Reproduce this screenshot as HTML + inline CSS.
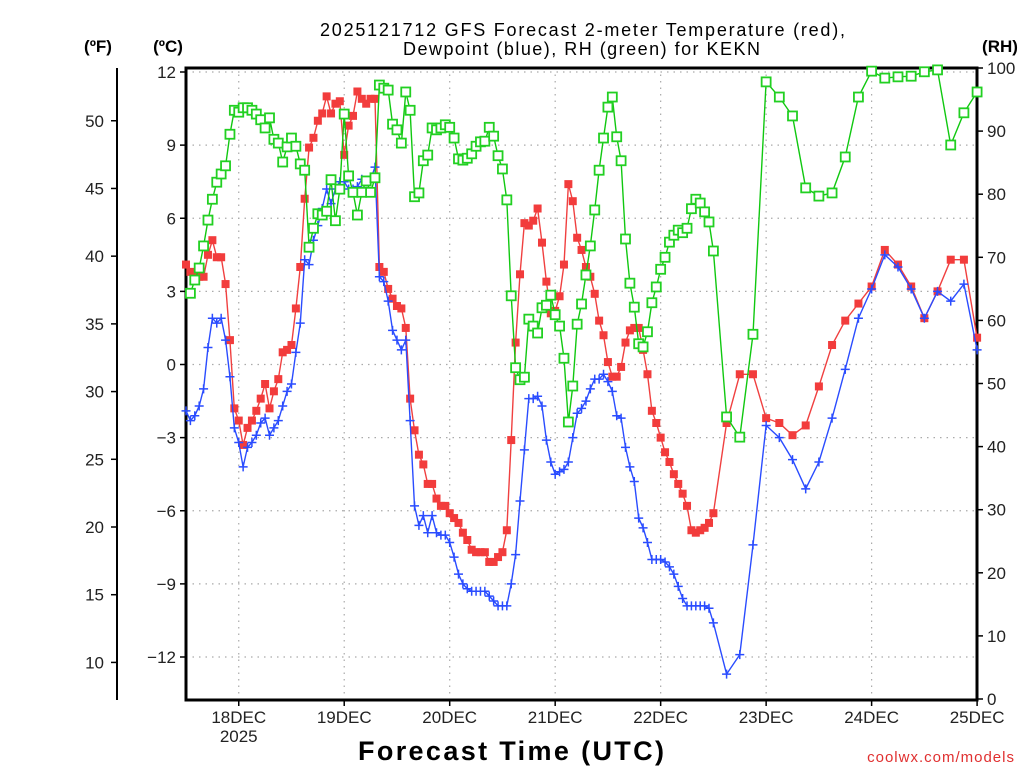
<!DOCTYPE html>
<html><head><meta charset="utf-8"><title>GFS Forecast KEKN</title>
<style>
html,body{margin:0;padding:0;background:#fff;}
svg{display:block;font-family:"Liberation Sans",sans-serif;}
</style></head>
<body>
<svg id="chart" width="1024" height="768" viewBox="0 0 1024 768" xmlns="http://www.w3.org/2000/svg">
  <text x="320" y="36" font-size="18" textLength="525" lengthAdjust="spacing" fill="#000">2025121712 GFS Forecast 2-meter Temperature (red),</text>
  <text x="403" y="55" font-size="18" textLength="357" lengthAdjust="spacing" fill="#000">Dewpoint (blue), RH (green) for KEKN</text>
  <text x="98" y="52" font-size="17" font-weight="bold" text-anchor="middle">(ºF)</text>
  <text x="168" y="52" font-size="17" font-weight="bold" text-anchor="middle">(ºC)</text>
  <text x="1000" y="52" font-size="17" font-weight="bold" text-anchor="middle">(RH)</text>
  <text x="358" y="760" font-size="27" font-weight="bold" textLength="306" lengthAdjust="spacing">Forecast Time (UTC)</text>
  <text x="1015" y="762" font-size="15" fill="#e03030" text-anchor="end" letter-spacing="1">coolwx.com/models</text>
  <g id="grid"></g>
  <g id="axes"></g>
  <g id="series"></g>
</svg>
<script>
// ---- data ----
const dayLabels = ["18DEC","19DEC","20DEC","21DEC","22DEC","23DEC","24DEC","25DEC"];
const dayHours = [12,36,60,84,108,132,156,180];
const celsiusTicks = [12,9,6,3,0,-3,-6,-9,-12];
const fahrenheitTicks = [50,45,40,35,30,25,20,15,10];
const rhTicks = [100,90,80,70,60,50,40,30,20,10,0];
const hoursTail = [123,126,129,132,135,138,141,144,147,150,153,156,159,162,165,168,171,174,177,180];
const tempC = [4.1,3.8,3.6,3.6,3.6,4.5,5.1,4.4,4.4,3.3,1.0,-1.8,-2.3,-3.3,-2.6,-2.3,-1.9,-1.4,-0.8,-1.8,
-1.1,-0.6,0.5,0.6,0.8,2.3,4.0,6.8,8.9,9.3,10.0,10.3,11.0,10.3,10.7,10.8,8.6,9.8,10.2,11.2,
10.9,10.7,10.9,10.9,4.0,3.8,3.1,2.7,2.4,2.3,1.5,-1.4,-2.7,-3.7,-4.1,-4.9,-4.9,-5.5,-5.8,-5.8,
-6.1,-6.3,-6.5,-6.9,-7.2,-7.6,-7.7,-7.7,-7.7,-8.1,-8.1,-7.9,-7.7,-6.8,-3.1,0.9,3.7,5.8,5.7,5.9,
6.4,5.0,3.4,2.1,2.2,2.8,4.1,7.4,6.7,5.2,4.7,4.0,3.6,2.9,1.8,1.2,0.1,-0.5,-0.5,-0.1,
0.9,1.4,1.5,1.5,0.6,-0.4,-1.9,-2.4,-3.0,-3.6,-4.0,-4.5,-4.9,-5.3,-5.8,-6.8,-6.9,-6.8,-6.7,-6.5,-6.1,
-2.4,-0.4,-0.4,-2.2,-2.4,-2.9,-2.5,-0.9,0.8,1.8,2.5,3.2,4.7,4.1,3.2,1.9,3.0,4.3,4.3,1.1];
const dewC = [-1.9,-2.3,-2.1,-1.7,-1.0,0.7,1.9,1.7,1.9,1.0,-0.5,-2.6,-3.2,-4.2,-3.4,-3.2,-2.9,-2.4,-2.2,-2.9,
-2.6,-2.3,-1.7,-1.1,-0.8,0.5,1.7,4.3,4.1,5.1,5.7,6.4,7.2,6.6,7.2,7.5,7.5,7.2,7.2,7.3,
7.6,7.5,7.6,8.1,3.6,3.4,2.6,1.4,1.0,0.6,1.0,-2.3,-5.8,-6.6,-6.2,-6.9,-6.2,-6.9,-7.0,-7.0,
-7.3,-7.9,-8.6,-9.0,-9.2,-9.3,-9.3,-9.3,-9.3,-9.5,-9.7,-9.9,-9.9,-9.9,-9.0,-7.8,-5.6,-3.5,-1.4,-1.4,
-1.3,-1.7,-3.1,-4.0,-4.5,-4.4,-4.3,-4.0,-3.0,-2.0,-1.8,-1.5,-1.0,-0.6,-0.6,-0.4,-0.7,-1.1,-2.1,-2.2,
-3.4,-4.2,-4.8,-6.3,-6.7,-7.3,-8.0,-8.0,-8.0,-8.1,-8.3,-8.6,-9.1,-9.6,-9.9,-9.9,-9.9,-9.9,-9.9,-10.0,-10.6,
-12.7,-11.9,-7.4,-2.5,-3.0,-3.9,-5.1,-4.0,-2.2,-0.2,1.9,3.1,4.5,4.0,3.1,1.9,3.0,2.6,3.3,0.6];
const rhPct = [64.3,66.4,68.3,71.8,75.9,79.2,81.9,83.2,84.5,89.5,
93.3,93.0,93.7,93.7,93.3,92.7,91.8,90.5,92.1,88.7,88.1,85.1,87.5,88.9,87.6,84.8,83.8,71.6,74.6,76.9,
76.7,77.3,82.3,75.8,80.8,92.7,82.9,80.3,76.7,80.3,82.1,80.3,82.6,97.3,96.8,96.5,91.1,90.2,88.1,96.2,
93.3,79.6,80.2,85.3,86.2,90.5,90.2,90.5,91.0,90.6,88.9,85.6,85.4,85.7,86.4,87.6,88.3,88.4,90.6,89.2,
86.1,84.0,79.1,63.9,52.5,50.6,51.0,60.2,59.1,58.0,62.0,62.4,64.0,60.9,59.1,54.0,43.9,49.6,59.4,62.6,
67.2,71.8,77.5,83.8,88.9,93.8,95.4,89.1,85.3,72.9,65.9,62.1,56.3,55.8,58.2,62.8,65.3,68.1,70.0,72.4,
73.5,74.3,73.9,74.6,77.7,79.2,78.6,77.2,75.6,71.0,
44.7,41.5,57.8,97.8,95.4,92.4,81.0,79.7,80.2,85.9,95.4,99.5,98.4,98.6,98.7,99.4,99.7,87.8,92.9,96.2];

// hours: hourly 0..120 then 3-hourly tail
const hoursTR = [];
for (let h = 0; h <= 120; h++) hoursTR.push(h);
const hoursT = hoursTR.concat(hoursTail);
const hoursRH = hoursT.slice(1);

// ---- scales ----
const X0 = 186, X1 = 977, Y0 = 68, Y1 = 700;
const xH = h => 186 + h * 4.395;
const yC = c => 364.5 - c * 24.375;
const yF = f => yC((f - 32) * 5 / 9);
const yRH = r => 699 - r * 6.31;

const NS = "http://www.w3.org/2000/svg";
function mk(tag, attrs, parent) {
  const e = document.createElementNS(NS, tag);
  for (const k in attrs) e.setAttribute(k, attrs[k]);
  parent.appendChild(e);
  return e;
}
const grid = document.getElementById("grid");
const axes = document.getElementById("axes");
const series = document.getElementById("series");

celsiusTicks.forEach(c => {
  const l = mk("line", {x1: X0, x2: X1, y1: yC(c), y2: yC(c), stroke: "#aaa", "stroke-width": 1.2, "stroke-dasharray": "1.5 5"}, grid);
  
  
});
dayHours.forEach(h => {
  const l = mk("line", {x1: xH(h), x2: xH(h), y1: Y0, y2: Y1, stroke: "#aaa", "stroke-width": 1.2, "stroke-dasharray": "1.5 5"}, grid);
  
  
});

const frame = mk("rect", {x: X0, y: Y0, width: X1 - X0, height: Y1 - Y0, fill: "none", stroke: "#000", "stroke-width": 3}, axes);



celsiusTicks.forEach(c => {
  const t = mk("line", {x1: X0 - 6, x2: X0, y1: yC(c), y2: yC(c), stroke: "#000", "stroke-width": 1.5}, axes);
  
  
  const lab = mk("text", {x: X0 - 10, y: yC(c) + 6, "font-size": 17, "text-anchor": "end", fill: "#222"}, axes);
  lab.textContent = c < 0 ? "\u2212" + Math.abs(c) : String(c);
  
  
});
const fl = mk("line", {x1: 117, x2: 117, y1: Y0, y2: Y1, stroke: "#000", "stroke-width": 2}, axes);


fahrenheitTicks.forEach(f => {
  const t = mk("line", {x1: 111, x2: 117, y1: yF(f), y2: yF(f), stroke: "#000", "stroke-width": 1.5}, axes);
  
  
  const lab = mk("text", {x: 104, y: yF(f) + 6, "font-size": 17, "text-anchor": "end", fill: "#222"}, axes);
  lab.textContent = String(f);
  
  
});
rhTicks.forEach(r => {
  const t = mk("line", {x1: X1, x2: X1 + 6, y1: yRH(r), y2: yRH(r), stroke: "#000", "stroke-width": 1.5}, axes);
  
  
  const lab = mk("text", {x: X1 + 10, y: yRH(r) + 6, "font-size": 17, "text-anchor": "start", fill: "#222"}, axes);
  lab.textContent = String(r);
  
  
});
dayHours.forEach((h, i) => {
  const t = mk("line", {x1: xH(h), x2: xH(h), y1: Y1, y2: Y1 + 6, stroke: "#000", "stroke-width": 1.5}, axes);
  
  
  const lab = mk("text", {x: xH(h), y: Y1 + 23, "font-size": 17, "text-anchor": "middle", fill: "#222"}, axes);
  lab.textContent = dayLabels[i];
  
  
});
const yr = mk("text", {x: xH(12), y: Y1 + 42, "font-size": 17, "text-anchor": "middle", fill: "#222"}, axes);
yr.textContent = "2025";



function line(hours, vals, yf, color, name) {
  const pts = hours.map((h, i) => xH(h).toFixed(1) + "," + yf(vals[i]).toFixed(1)).join(" ");
  const p = mk("polyline", {points: pts, fill: "none", stroke: color, "stroke-width": 1.4}, series);
  
  
}
line(hoursT, tempC, yC, "#f04040", "temperature-line");
hoursT.forEach((h, i) => {
  const r = mk("rect", {x: xH(h) - 4, y: yC(tempC[i]) - 4, width: 8, height: 8, fill: "#f23c3c"}, series);
  
  
});
line(hoursT, dewC, yC, "#2a4cff", "dewpoint-line");
hoursT.forEach((h, i) => {
  const x = xH(h), y = yC(dewC[i]);
  const p = mk("path", {d: `M${x-4.5},${y}H${x+4.5}M${x},${y-4.5}V${y+4.5}`, stroke: "#2a4cff", "stroke-width": 1.5, fill: "none"}, series);
  
  
});
line(hoursRH, rhPct, yRH, "#10c810", "rh-line");
hoursRH.forEach((h, i) => {
  const r = mk("rect", {x: xH(h) - 4.5, y: yRH(rhPct[i]) - 4.5, width: 9, height: 9, fill: "#fff", stroke: "#22d022", "stroke-width": 1.8}, series);
  
  
});
</script>
</body></html>
